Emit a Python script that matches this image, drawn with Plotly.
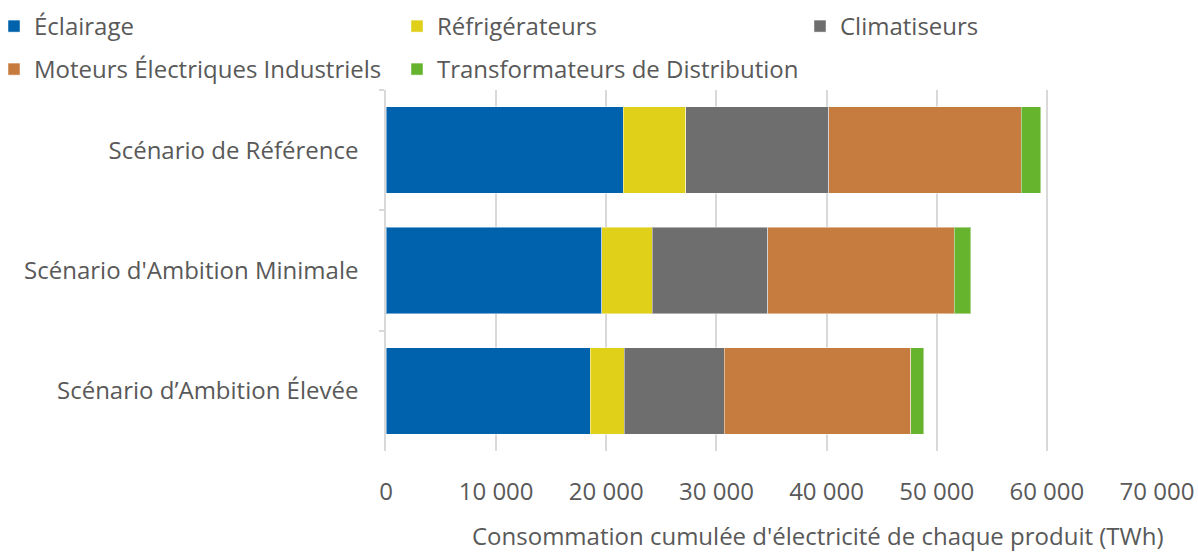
import plotly.graph_objects as go

scenarios = ["Scénario de Référence", "Scénario d'Ambition Minimale", "Scénario d’Ambition Élevée"]
series_names = ["Éclairage", "Réfrigérateurs", "Climatiseurs",
                "Moteurs Électriques Industriels", "Transformateurs de Distribution"]
eclairage = [21530, 19600, 18540]
refrigerateurs = [5690, 4590, 3080]
climatiseurs = [13000, 10470, 9070]
moteurs = [17450, 16930, 16930]
transformateurs = [1760, 1490, 1210]
colors = ["#0062AC", "#E0D01A", "#6E6E6E", "#C77C3F", "#66B32E"]
x_ticks = [0, 10000, 20000, 30000, 40000, 50000, 60000, 70000]
x_tick_labels = ["0", "10 000", "20 000", "30 000", "40 000", "50 000", "60 000", "70 000"]
x_title = "Consommation cumulée d'électricité de chaque produit (TWh)"

FONT = "Open Sans"
TXT = "#595959"
W, H = 1198, 553
ML, MR, MT, MB = 386, 41, 90, 102
PW = W - ML - MR
PH = H - MT - MB

# legend slots (pixel positions of each legend box's left/top)
legend_slots = [(-6, 4), (397, 4), (800, 4), (-6, 47), (397, 47)]
legend_ids = ["legend", "legend2", "legend3", "legend4", "legend5"]

fig = go.Figure()
for name, vals, col, lid in zip(series_names,
                                [eclairage, refrigerateurs, climatiseurs, moteurs, transformateurs],
                                colors, legend_ids):
    fig.add_trace(go.Bar(
        y=scenarios, x=vals, name=name, orientation="h", legend=lid,
        marker=dict(color=col, line=dict(color="rgba(255,255,255,0.45)", width=1)),
    ))

layout_legends = {}
for lid, (lx, ly) in zip(legend_ids, legend_slots):
    layout_legends[lid] = dict(
        orientation="h", xref="paper", yref="container",
        x=(lx - ML) / PW, y=1 - ly / H, xanchor="left", yanchor="top",
        font=dict(family=FONT, size=24, color=TXT),
        bgcolor="rgba(0,0,0,0)", borderwidth=0, visible=True,
    )

fig.update_layout(
    width=W, height=H, showlegend=True,
    barmode="stack", bargap=0.28,
    plot_bgcolor="white", paper_bgcolor="white",
    margin=dict(l=ML, r=MR, t=MT, b=MB, autoexpand=False),
    font=dict(family=FONT, size=24, color=TXT),
    xaxis=dict(
        range=[0, 70000], tickvals=x_ticks, ticktext=x_tick_labels,
        showgrid=True, gridcolor="#d9d9d9", gridwidth=1.5,
        zeroline=False, showline=False, ticks="",
        ticklabelstandoff=24,
        tickfont=dict(family=FONT, size=24, color=TXT),
    ),
    yaxis=dict(
        categoryorder="array", categoryarray=scenarios, autorange="reversed",
        showline=True, linecolor="#d9d9d9", linewidth=1.5,
        ticks="outside", tickson="boundaries", ticklen=5, tickcolor="#d9d9d9", tickwidth=1.5,
        ticklabelstandoff=21,
        tickfont=dict(family=FONT, size=24, color=TXT),
        showgrid=False,
    ),
    annotations=[dict(
        text=x_title, xref="paper", yref="paper",
        x=(818 - ML) / PW, y=-(535 - (MT + PH)) / PH,
        xanchor="center", yanchor="middle", showarrow=False,
        font=dict(family=FONT, size=24, color=TXT),
    )],
    **layout_legends,
)

fig.write_html("out.html", config={"displayModeBar": False})

# remove the browser's default page margin so the figure sits at the window's corner
with open("out.html", "r", encoding="utf-8") as f:
    html = f.read()
html = html.replace("<head>", "<head><style>html,body{margin:0;padding:0;overflow:hidden;}</style>", 1)
with open("out.html", "w", encoding="utf-8") as f:
    f.write(html)
